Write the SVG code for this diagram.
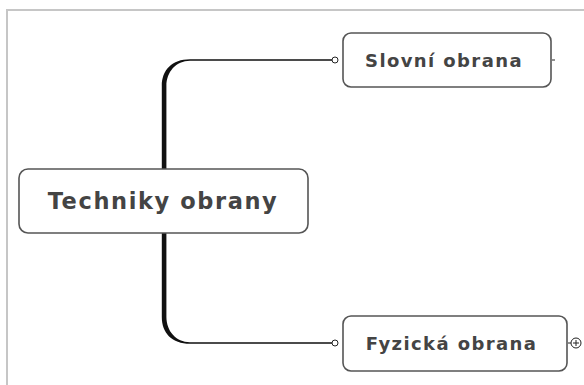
<svg xmlns="http://www.w3.org/2000/svg" width="584" height="385" viewBox="0 0 584 385">
<style>
.box{fill:#fff;stroke:#555;stroke-width:1.6}
.t{font-family:"DejaVu Sans",Verdana,sans-serif;font-weight:bold;fill:#444;text-anchor:middle;dominant-baseline:central}
.c{fill:#111;stroke:none}
.dot{fill:#fff;stroke:#222;stroke-width:1}
</style>
<rect x="0" y="0" width="584" height="385" fill="#fff"/>
<path d="M7 385 V10 H584" fill="none" stroke="#c6c6c6" stroke-width="2"/>
<g id="connectors">
<path class="c" d="M161.8 169 V86 C161.8 70 172 59.2 190 59.2 H332 V60.8 H190 C176 60.8 166.4 72 166.4 86 V169 Z"/>
<path class="c" d="M161.8 233 V317 C161.8 333 172 343.8 190 343.8 H332 V342.2 H190 C176 342.2 166.4 331 166.4 317 V233 Z"/>
<circle class="dot" cx="335" cy="60" r="3"/>
<circle class="dot" cx="335" cy="343" r="3"/>
<path d="M552 60 H555" stroke="#222" stroke-width="1"/>
<path d="M568 343 H571" stroke="#222" stroke-width="1"/>
</g>
<g id="root">
<rect class="box" x="19" y="169" width="289" height="64" rx="9"/>
<text class="t" x="163" y="201" font-size="22.5" letter-spacing="1.6">Techniky obrany</text>
</g>
<g id="slovni">
<rect class="box" x="343" y="33" width="208" height="54" rx="8"/>
<text class="t" x="444" y="60" font-size="18" letter-spacing="1.4">Slovní obrana</text>
</g>
<g id="fyzicka">
<rect class="box" x="343" y="316" width="224" height="55" rx="8"/>
<text class="t" x="451.5" y="343" font-size="18" letter-spacing="1.4">Fyzická obrana</text>
<circle cx="576" cy="343" r="5" fill="#fff" stroke="#222" stroke-width="1"/>
<path d="M573 343 H579 M576 340 V346" stroke="#222" stroke-width="1"/>
</g>
</svg>
